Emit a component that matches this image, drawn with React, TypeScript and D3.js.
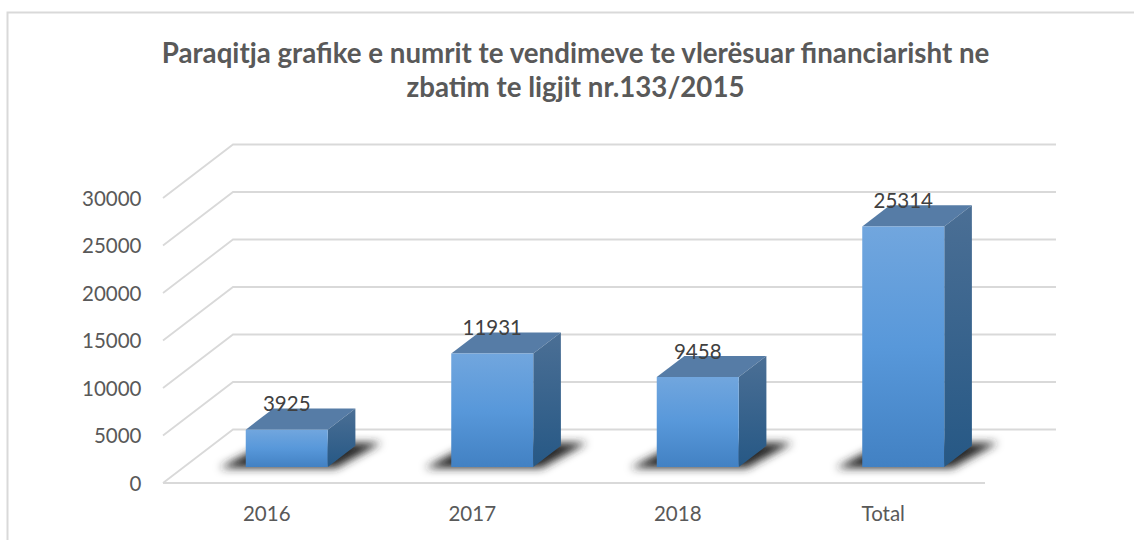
import React from 'react'
import * as d3 from 'd3'

const titleLines = [
  'Paraqitja grafike e numrit te vendimeve te vlerësuar financiarisht ne',
  'zbatim te ligjit nr.133/2015',
]
const categories = ['2016', '2017', '2018', 'Total']
const values = [3925, 11931, 9458, 25314]
const yTicks = [0, 5000, 10000, 15000, 20000, 25000, 30000]

const width = 1134
const height = 540
const font = 'Lato, sans-serif'
const gridColor = '#d9d9d9'
const textColor = '#595959'

// front plane of the chart box
const y = d3.scaleLinear().domain([0, 30000]).range([483, 198])
const x = d3.scaleBand<string>().domain(categories).range([163, 985])

// the box recedes up and to the right, depth 0 is the front and 1 the back wall
const wallDx = 70
const wallDy = -53.5
const gapDepth = 0.3
const barDepth = 0.395
const barWidth = 82

function project(px: number, py: number, depth: number): [number, number] {
  return [px + wallDx * depth, py + wallDy * depth]
}

function poly(points: [number, number][]) {
  return d3.line()(points) + 'Z'
}

export default function App() {
  const d0 = gapDepth
  const d1 = gapDepth + barDepth
  const zero = y(0)

  return (
    <svg
      width={width}
      height={height}
      style={{ position: 'absolute', left: 0, top: 0, background: '#fff' }}
    >
      <defs>
        <linearGradient id="front" x1="0" y1="0" x2="0" y2="1">
          <stop offset="0%" stopColor="#71a6de" />
          <stop offset="50%" stopColor="#5898da" />
          <stop offset="100%" stopColor="#4281c3" />
        </linearGradient>
        <linearGradient id="side" x1="0" y1="0" x2="0" y2="1">
          <stop offset="0%" stopColor="#4b6f95" />
          <stop offset="100%" stopColor="#265885" />
        </linearGradient>
        <filter id="blur" x="-40%" y="-80%" width="180%" height="260%">
          <feGaussianBlur stdDeviation="4" />
        </filter>
      </defs>

      <path
        d="M7.5 541V12.5H1134"
        fill="none"
        stroke={gridColor}
        strokeWidth={2}
      />

      {titleLines.map((line, i) => (
        <text
          key={line}
          x={575.5}
          y={63 + i * 33.5}
          textAnchor="middle"
          fontFamily={font}
          fontWeight={700}
          fontSize={27.7}
          fill={textColor}
        >
          {line}
        </text>
      ))}

      {yTicks.map(t => {
        const front = project(163, y(t), 0)
        const back = project(163, y(t), 1)
        return (
          <g key={t}>
            <path
              d={d3.line()([front, back, [1056, back[1]]]) as string}
              fill="none"
              stroke={gridColor}
              strokeWidth={1.8}
            />
            <text
              x={141.5}
              y={y(t) + 7.5}
              textAnchor="end"
              fontFamily={font}
              fontSize={20.5}
              fill={textColor}
            >
              {t}
            </text>
          </g>
        )
      })}
      <line x1={163} x2={985} y1={zero} y2={zero} stroke={gridColor} strokeWidth={1.8} />

      {categories.map((c, i) => {
        const center = (x(c) as number) + x.bandwidth() / 2
        const left = center - barWidth / 2
        const right = center + barWidth / 2
        const top = y(values[i])

        const fl = project(left, zero, d0)
        const fr = project(right, zero, d0)
        const bl = project(left, zero, d1)
        const br = project(right, zero, d1)
        const tfl = project(left, top, d0)
        const tfr = project(right, top, d0)
        const tbl = project(left, top, d1)
        const tbr = project(right, top, d1)

        return (
          <g key={c}>
            <path
              d={poly([
                [fl[0] - 26, fl[1] + 1],
                [fr[0] + 8, fr[1] + 1],
                [br[0] + 26, br[1] - 3],
                [bl[0] - 6, bl[1] - 3],
              ])}
              fill="#262626"
              filter="url(#blur)"
            />
            <path d={poly([tfl, tfr, tbr, tbl])} fill="#567ca6" />
            <path d={poly([fr, br, tbr, tfr])} fill="url(#side)" />
            <path d={poly([fl, fr, tfr, tfl])} fill="url(#front)" />
            <text
              x={tfl[0] + barWidth / 2}
              y={tfl[1] - 18.5}
              textAnchor="middle"
              fontFamily={font}
              fontSize={20.5}
              fill="#404040"
            >
              {values[i]}
            </text>
            <text
              x={center + 1}
              y={521}
              textAnchor="middle"
              fontFamily={font}
              fontSize={20.5}
              fill={textColor}
            >
              {c}
            </text>
          </g>
        )
      })}
    </svg>
  )
}
